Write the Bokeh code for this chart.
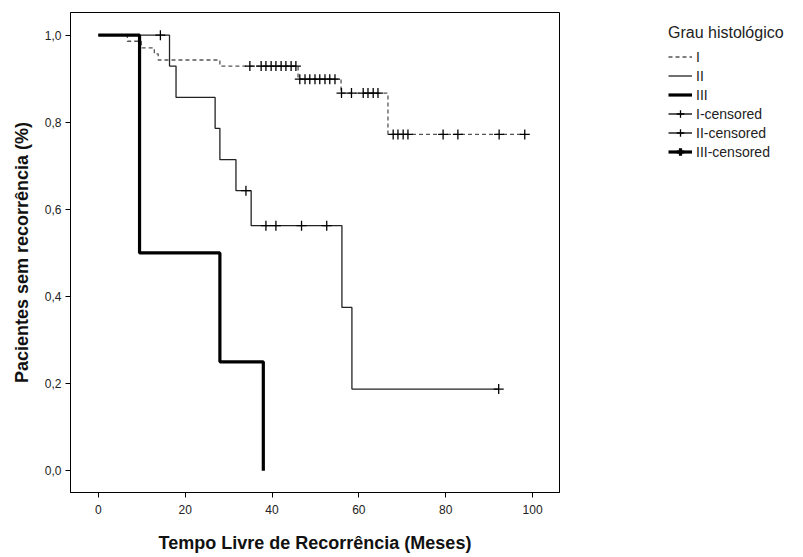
from bokeh.plotting import figure
from bokeh.layouts import row
from bokeh.models import FixedTicker, Range1d, Legend, LegendItem, ColumnDataSource
from bokeh.embed import file_html
from bokeh.resources import INLINE

# ---- data ----
x_ticks = [0, 20, 40, 60, 80, 100]
y_ticks = [0.0, 0.2, 0.4, 0.6, 0.8, 1.0]
y_tick_labels = ["0,0", "0,2", "0,4", "0,6", "0,8", "1,0"]

group_labels = ["I", "II", "III", "I-censored", "II-censored", "III-censored"]

# Grau I (survival steps)
g1_time = [0, 6.7, 9.9, 12.9, 13.8, 28.0, 46.0, 55.9, 66.7, 98.2]
g1_surv = [1.0, 0.986, 0.971, 0.957, 0.943, 0.929, 0.899, 0.867, 0.772, 0.772]
g1_cens_time = [34.9, 37.5, 38.6, 39.8, 40.9, 42.1, 43.2, 44.4, 45.5,
                46.4, 47.6, 48.7, 49.9, 51.0, 52.2, 53.3, 54.5,
                56.0, 58.3, 61.0, 62.1, 63.3, 64.4,
                67.9, 69.0, 70.2, 71.3, 79.4, 82.8, 92.3, 98.2]
g1_cens_surv = [0.929] * 9 + [0.899] * 8 + [0.867] * 6 + [0.772] * 8

# Grau II
g2_time = [0, 16.4, 17.9, 26.9, 28.0, 31.7, 35.2, 56.1, 58.4, 92.2]
g2_surv = [1.0, 0.929, 0.857, 0.786, 0.714, 0.643, 0.5625, 0.375, 0.1875, 0.1875]
g2_cens_time = [14.3, 34.0, 38.6, 40.9, 46.8, 52.6, 92.2]
g2_cens_surv = [1.0, 0.643, 0.5625, 0.5625, 0.5625, 0.5625, 0.1875]

# Grau III
g3_time = [0, 9.5, 28.0, 38.0]
g3_surv = [1.0, 0.5, 0.25, 0.0]
g3_cens_time = []
g3_cens_surv = []

FONT = "Liberation Sans"

STYLE_I = dict(line_color="#555555", line_width=1.3, line_dash="4 3")
STYLE_II = dict(line_color="#222222", line_width=1.3)
STYLE_III = dict(line_color="black", line_width=3.2)
CENS_THIN = dict(marker="cross", size=10, line_color="black", line_width=1.3)
CENS_THICK = dict(marker="cross", size=12, line_color="black", line_width=3.2)

p = figure(width=600, height=557, output_backend="svg", toolbar_location=None,
           x_range=Range1d(-6.4, 106.2), y_range=Range1d(-0.05, 1.052),
           min_border_left=70, min_border_right=41, min_border_top=12,
           min_border_bottom=65)

p.background_fill_color = "white"
p.border_fill_color = "white"
p.outline_line_color = "black"
p.outline_line_width = 1
p.xgrid.visible = False
p.ygrid.visible = False

for ax in (p.xaxis[0], p.yaxis[0]):
    ax.axis_line_color = "black"
    ax.major_tick_line_color = "black"
    ax.major_tick_in = 0
    ax.major_tick_out = 5
    ax.minor_tick_line_color = None
    ax.major_label_text_font = FONT
    ax.major_label_text_font_size = "12px"
    ax.major_label_text_color = "#222222"
    ax.axis_label_text_font = FONT
    ax.axis_label_text_font_size = "18px"
    ax.axis_label_text_font_style = "bold"
    ax.axis_label_text_color = "#111111"

p.xaxis.ticker = FixedTicker(ticks=x_ticks)
p.yaxis.ticker = FixedTicker(ticks=y_ticks)
p.yaxis.major_label_overrides = {v: l for v, l in zip(y_ticks, y_tick_labels)}
p.xaxis.axis_label = "Tempo Livre de Recorrência (Meses)"
p.yaxis.axis_label = "Pacientes sem recorrência (%)"
p.xaxis.major_label_standoff = 7
p.xaxis.axis_label_standoff = 16
p.yaxis.major_label_standoff = 4
p.yaxis.axis_label_standoff = 10

s1 = ColumnDataSource(dict(t=g1_time, s=g1_surv))
s2 = ColumnDataSource(dict(t=g2_time, s=g2_surv))
s3 = ColumnDataSource(dict(t=g3_time, s=g3_surv))
c1 = ColumnDataSource(dict(t=g1_cens_time, s=g1_cens_surv))
c2 = ColumnDataSource(dict(t=g2_cens_time, s=g2_cens_surv))
c3 = ColumnDataSource(dict(t=g3_cens_time, s=g3_cens_surv))

p.step(x="t", y="s", source=s1, mode="after", **STYLE_I)
p.step(x="t", y="s", source=s2, mode="after", **STYLE_II)
p.step(x="t", y="s", source=s3, mode="after", **STYLE_III)
p.scatter(x="t", y="s", source=c1, **CENS_THIN)
p.scatter(x="t", y="s", source=c2, **CENS_THIN)
p.scatter(x="t", y="s", source=c3, **CENS_THICK)

# ---- legend panel (separate figure to the right) ----
# Its ranges lie far from the data, so the proxy renderers draw nothing
# themselves; they only supply the legend swatches.
lg = figure(width=203, height=557, output_backend="svg", toolbar_location=None,
            x_range=Range1d(1000, 1001), y_range=Range1d(1000, 1001),
            min_border=0, min_border_left=0, min_border_right=0,
            min_border_top=0, min_border_bottom=0)
lg.axis.visible = False
lg.grid.visible = False
lg.outline_line_color = None
lg.background_fill_color = "white"
lg.border_fill_color = "white"

l1 = lg.step(x="t", y="s", source=s1, mode="after", **STYLE_I)
l2 = lg.step(x="t", y="s", source=s2, mode="after", **STYLE_II)
l3 = lg.step(x="t", y="s", source=s3, mode="after", **STYLE_III)
l4 = [lg.step(x="t", y="s", source=s2, mode="after", line_color="black", line_width=1.3),
      lg.scatter(x="t", y="s", source=c1, **CENS_THIN)]
l5 = [lg.step(x="t", y="s", source=s2, mode="after", line_color="black", line_width=1.3),
      lg.scatter(x="t", y="s", source=c2, **CENS_THIN)]
l6 = [lg.step(x="t", y="s", source=s2, mode="after", line_color="black", line_width=3.2),
      lg.scatter(x="t", y="s", source=c2, **CENS_THICK)]

legend = Legend(items=[LegendItem(label=lab, renderers=(r if isinstance(r, list) else [r]))
                       for lab, r in zip(group_labels, [l1, l2, l3, l4, l5, l6])],
                location=(68, 331), title="Grau histológico",
                title_text_font=FONT, title_text_font_size="16px",
                title_text_font_style="normal", title_text_color="#222222",
                label_text_font=FONT, label_text_font_size="14px",
                label_text_color="#222222",
                border_line_color=None, background_fill_alpha=0,
                padding=0, margin=0, spacing=0, glyph_height=19, glyph_width=24,
                label_height=16, label_standoff=4, title_standoff=5)
lg.add_layout(legend, "center")

layout = row(p, lg, spacing=0)
open("out.html", "w").write(file_html(layout, INLINE))
